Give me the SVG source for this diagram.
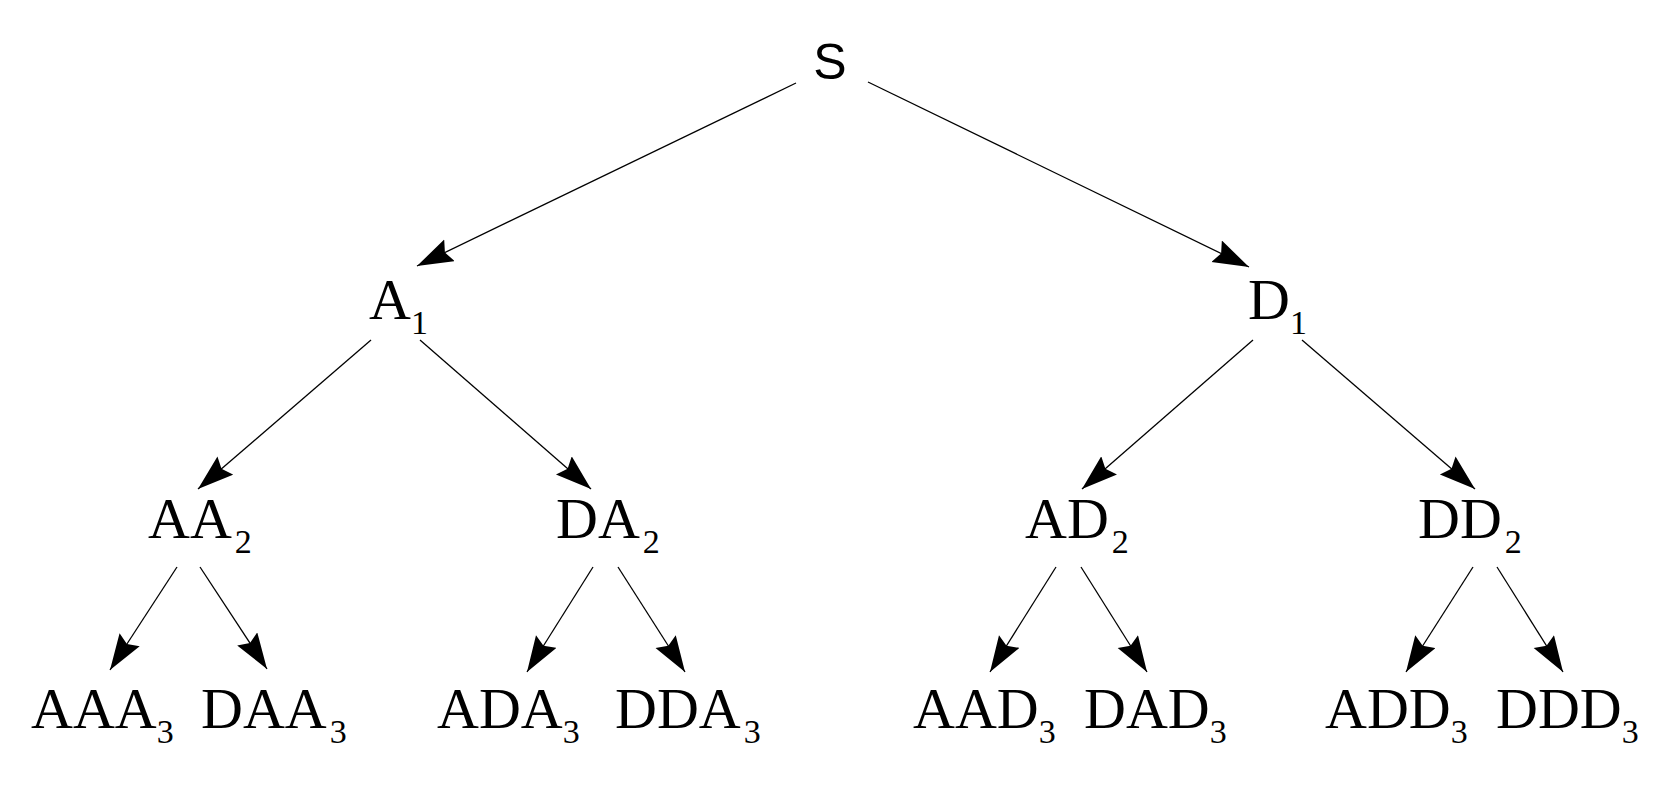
<svg xmlns="http://www.w3.org/2000/svg" width="1668" height="792" viewBox="0 0 1668 792">
<style>
text{font-family:"Liberation Serif","Times New Roman",serif;font-size:58px;fill:#000}
.sub{font-size:34px}
.s{font-family:"Liberation Sans",Arial,sans-serif;font-size:50px}
line{stroke:#000;stroke-width:1.3}
</style>
<defs><marker id="ah" markerUnits="userSpaceOnUse" markerWidth="38" markerHeight="26" refX="36" refY="12" orient="auto"><path d="M0,0 L36,12 L0,24 L5,12 z" fill="#000"/></marker></defs>
<rect width="1668" height="792" fill="#fff"/>
<g id="connectors" marker-end="url(#ah)">
<line x1="796" y1="83" x2="417" y2="266"/>
<line x1="868" y1="82" x2="1249" y2="267"/>
<line x1="371" y1="340" x2="198" y2="489"/>
<line x1="420" y1="340" x2="591" y2="489"/>
<line x1="1253" y1="340" x2="1082" y2="489"/>
<line x1="1302" y1="340" x2="1475" y2="489"/>
<line x1="177" y1="567" x2="110" y2="670"/>
<line x1="200" y1="567" x2="267" y2="669"/>
<line x1="593" y1="567" x2="527" y2="672"/>
<line x1="618" y1="567" x2="685" y2="672"/>
<line x1="1056" y1="567" x2="990" y2="672"/>
<line x1="1081" y1="567" x2="1147" y2="672"/>
<line x1="1473" y1="567" x2="1406" y2="672"/>
<line x1="1497" y1="567" x2="1563" y2="672"/>
</g>
<g id="S"><text class="s" x="830" y="79" text-anchor="middle">S</text></g>
<g id="A1"><text x="369" y="319">A<tspan class="sub" dy="15">1</tspan></text></g>
<g id="D1"><text x="1248" y="319">D<tspan class="sub" dy="15">1</tspan></text></g>
<g id="AA2"><text x="148" y="538">AA<tspan class="sub" dx="3" dy="15">2</tspan></text></g>
<g id="DA2"><text x="556" y="538">DA<tspan class="sub" dx="3" dy="15">2</tspan></text></g>
<g id="AD2"><text x="1025" y="538">AD<tspan class="sub" dx="3" dy="15">2</tspan></text></g>
<g id="DD2"><text x="1418" y="538">DD<tspan class="sub" dx="3" dy="15">2</tspan></text></g>
<g id="AAA3"><text x="31" y="728">AAA<tspan class="sub" dy="15">3</tspan></text></g>
<g id="DAA3"><text x="201" y="728">DAA<tspan class="sub" dx="3" dy="15">3</tspan></text></g>
<g id="ADA3"><text x="437" y="728">ADA<tspan class="sub" dy="15">3</tspan></text></g>
<g id="DDA3"><text x="615" y="728">DDA<tspan class="sub" dx="3" dy="15">3</tspan></text></g>
<g id="AAD3"><text x="913" y="728">AAD<tspan class="sub" dy="15">3</tspan></text></g>
<g id="DAD3"><text x="1084" y="728">DAD<tspan class="sub" dy="15">3</tspan></text></g>
<g id="ADD3"><text x="1325" y="728">ADD<tspan class="sub" dy="15">3</tspan></text></g>
<g id="DDD3"><text x="1496" y="728">DDD<tspan class="sub" dy="15">3</tspan></text></g>
</svg>
